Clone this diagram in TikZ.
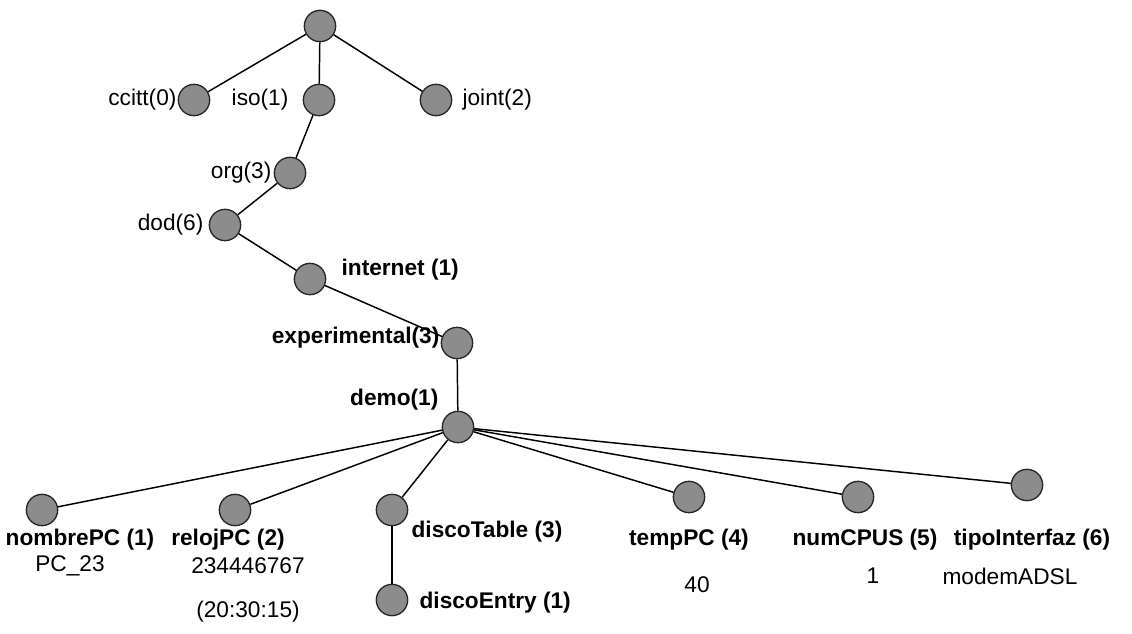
\documentclass[tikz,border=0pt]{standalone}
\usepackage{fontspec}
\setmainfont{Liberation Sans}
\begin{document}
\begin{tikzpicture}[x=0.75pt, y=-0.75pt,
  oid/.style={draw=black!85, circle, minimum size=23.5pt, inner sep=0pt, fill=black!45, line width=1pt},
  txt/.style={font=\fontsize{17}{19}\selectfont, inner sep=1pt},
  btxt/.style={font=\fontsize{17}{19}\selectfont\bfseries, inner sep=1pt},
  link/.style={line width=1.1pt}
]
\useasboundingbox (0,0) rectangle (1132,634);

% Upper part of the tree
\node[oid] (root) at (320, 26) {};
\node[oid] (ccitt) at (194, 100) {};
\node[oid] (iso) at (319, 100) {};
\node[oid] (joint) at (436, 100) {};
\node[oid] (org) at (290, 173) {};
\node[oid] (dod) at (225, 225) {};
\node[oid] (internet) at (310, 279) {};
\node[oid] (experimental) at (457, 343) {};
\node[oid] (demo) at (458, 427) {};

% Leaves under demo
\node[oid] (nombrePC) at (42, 510) {};
\node[oid] (relojPC) at (235, 510) {};
\node[oid] (discoTable) at (392, 510) {};
\node[oid] (discoEntry) at (392, 600) {};
\node[oid] (tempPC) at (689, 497) {};
\node[oid] (numCPUS) at (858, 497) {};
\node[oid] (tipoInterfaz) at (1027, 485) {};

% Labels
\node[txt, anchor=east] (ccittL) at (178, 100) {ccitt(0)};
\node[txt, anchor=east] (isoL) at (290, 100) {iso(1)};
\node[txt, anchor=west] (jointL) at (461, 100) {joint(2)};
\node[txt, anchor=east] (orgL) at (273, 173) {org(3)};
\node[txt, anchor=east] (dodL) at (205, 225) {dod(6)};
\node[btxt, anchor=west] (internetL) at (340, 270) {internet (1)};
\node[btxt, anchor=east] (experimentalL) at (441, 338) {experimental(3)};
\node[btxt, anchor=east] (demoL) at (440, 400) {demo(1)};

\node[btxt] (nombrePCL) at (80, 540) {nombrePC (1)};
\node[txt] (nombrePCV) at (70, 566) {PC\_23};
\node[btxt] (relojPCL) at (228, 540) {relojPC (2)};
\node[txt] (relojPCV) at (248, 566) {234446767};
\node[txt] (relojPCT) at (248, 612) {(20:30:15)};
\node[btxt, anchor=west] (discoTableL) at (410, 532) {discoTable (3)};
\node[btxt, anchor=west] (discoEntryL) at (418, 603) {discoEntry (1)};
\node[btxt] (tempPCL) at (689, 540) {tempPC (4)};
\node[txt] (tempPCV) at (697, 585) {40};
\node[btxt] (numCPUSL) at (865, 540) {numCPUS (5)};
\node[txt] (numCPUSV) at (873, 576) {1};
\node[btxt] (tipoInterfazL) at (1032, 540) {tipoInterfaz (6)};
\node[txt] (tipoInterfazV) at (1010, 576) {modemADSL};

% Links
\draw[link] (root) -- (ccitt);
\draw[link] (root) -- (iso);
\draw[link] (root) -- (joint);
\draw[link] (iso) -- (org);
\draw[link] (org) -- (dod);
\draw[link] (dod) -- (internet);
\draw[link] (internet) -- (experimental);
\draw[link] (experimental) -- (demo);
\foreach \leaf in {nombrePC, relojPC, discoTable, tempPC, numCPUS, tipoInterfaz}
  \draw[link] (demo) -- (\leaf);
\draw[link] (discoTable) -- (discoEntry);

\end{tikzpicture}
\end{document}
